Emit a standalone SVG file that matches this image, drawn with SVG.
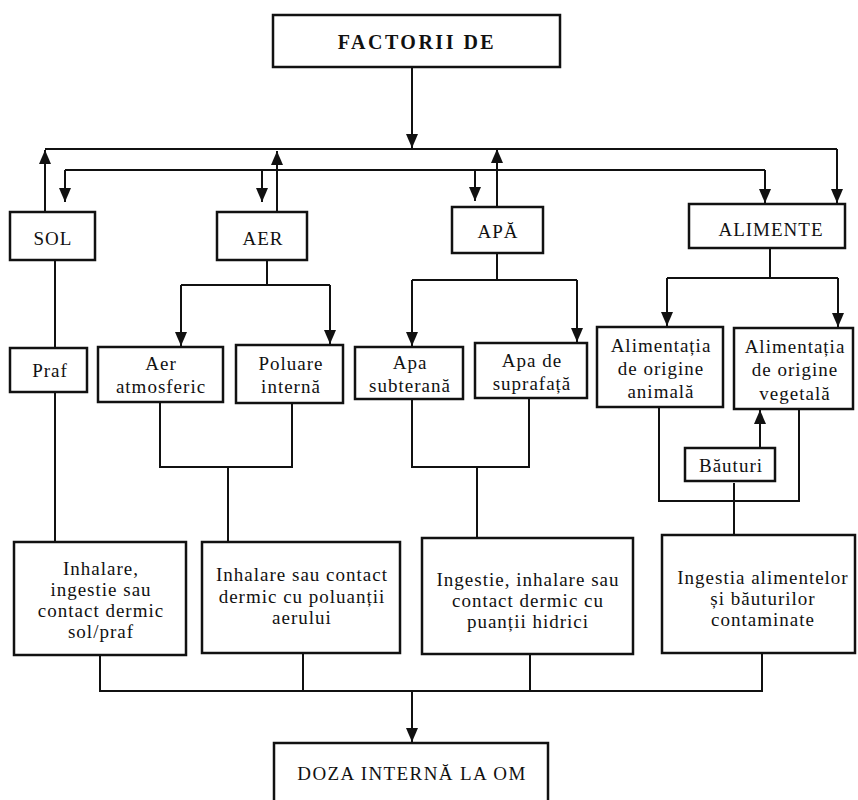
<svg xmlns="http://www.w3.org/2000/svg" width="858" height="800" viewBox="0 0 858 800">
<style>
.box{fill:#fff;stroke:#111;stroke-width:2.5}
.t{font-family:"Liberation Serif","Times New Roman",serif;font-size:19px;letter-spacing:1px;fill:#111;text-anchor:middle}
.b{font-weight:bold;font-size:20px;letter-spacing:2.5px}
.ln{fill:none;stroke:#111;stroke-width:2}
.ar{fill:none;stroke:#111;stroke-width:2;marker-end:url(#ah)}
</style>
<defs>
<marker id="ah" viewBox="0 0 14 12" refX="14" refY="6" markerWidth="14" markerHeight="12" markerUnits="userSpaceOnUse" orient="auto">
<path d="M0,0 L14,6 L0,12 z" fill="#111"/>
</marker>
</defs>
<rect width="858" height="800" fill="#fff"/>
<g id="connectors">
<path class="ar" d="M412,67 V148"/>
<path class="ln" d="M45,149 H837"/>
<path class="ar" d="M837,149 V203"/>
<path class="ln" d="M65,170 H765"/>
<path class="ar" d="M765,170 V203"/>
<path class="ar" d="M45,212 V150"/>
<path class="ar" d="M65,170 V202"/>
<path class="ar" d="M262,170 V202"/>
<path class="ar" d="M277,212 V151"/>
<path class="ar" d="M475,170 V201"/>
<path class="ar" d="M497,207 V149"/>
<path class="ln" d="M55,260 V348"/>
<path class="ln" d="M55,392 V542"/>
<path class="ln" d="M267,260 V285 M181,285 H330"/>
<path class="ar" d="M181,285 V346"/>
<path class="ar" d="M330,285 V344"/>
<path class="ln" d="M160,402 V467 H292 V403 M228,467 V542"/>
<path class="ln" d="M497,253 V280 M412,280 H577"/>
<path class="ar" d="M412,280 V346"/>
<path class="ar" d="M577,280 V342"/>
<path class="ln" d="M412,399 V467 H529 V398 M477,467 V538"/>
<path class="ln" d="M770,248 V278 M667,278 H838"/>
<path class="ar" d="M667,278 V326"/>
<path class="ar" d="M838,278 V327"/>
<path class="ln" d="M659,407 V501 H799 V409"/>
<path class="ar" d="M760,448 V410"/>
<path class="ln" d="M734,483 V535"/>
<path class="ln" d="M100,655 V691 H762 V653 M303,653 V691 M530,654 V691"/>
<path class="ar" d="M412,691 V742"/>
</g>
<g id="factorii"><rect class="box" x="273" y="15" width="287" height="52"/><text class="t b" x="417" y="49">FACTORII DE</text></g>
<g id="sol"><rect class="box" x="10" y="212" width="85" height="48"/><text class="t" x="53" y="245">SOL</text></g>
<g id="aer"><rect class="box" x="217" y="212" width="90" height="48"/><text class="t" x="263" y="245">AER</text></g>
<g id="apa"><rect class="box" x="452" y="207" width="91" height="46"/><text class="t" x="498" y="238">APĂ</text></g>
<g id="alimente"><rect class="box" x="689" y="204" width="156" height="44"/><text class="t" x="771" y="236">ALIMENTE</text></g>
<g id="praf"><rect class="box" x="10" y="348" width="77" height="44"/><text class="t" x="50" y="377">Praf</text></g>
<g id="aer-atm"><rect class="box" x="98" y="347" width="125" height="55"/><text class="t" x="161" y="370">Aer</text><text class="t" x="161" y="393">atmosferic</text></g>
<g id="poluare"><rect class="box" x="236" y="345" width="107" height="58"/><text class="t" x="291" y="370">Poluare</text><text class="t" x="291" y="393">internă</text></g>
<g id="apa-sub"><rect class="box" x="355" y="347" width="108" height="52"/><text class="t" x="410" y="369">Apa</text><text class="t" x="410" y="392">subterană</text></g>
<g id="apa-supr"><rect class="box" x="475" y="343" width="112" height="55"/><text class="t" x="532" y="367">Apa de</text><text class="t" x="532" y="390">suprafață</text></g>
<g id="alim-anim"><rect class="box" x="597" y="327" width="126" height="80"/><text class="t" x="661" y="352">Alimentația</text><text class="t" x="661" y="375">de origine</text><text class="t" x="661" y="398">animală</text></g>
<g id="alim-veg"><rect class="box" x="734" y="328" width="119" height="81"/><text class="t" x="795" y="353">Alimentația</text><text class="t" x="795" y="376">de origine</text><text class="t" x="795" y="400">vegetală</text></g>
<g id="bauturi"><rect class="box" x="685" y="448" width="90" height="33"/><text class="t" x="731" y="472">Băuturi</text></g>
<g id="cale-sol"><rect class="box" x="14" y="542" width="172" height="113"/><text class="t" x="101" y="575">Inhalare,</text><text class="t" x="101" y="596">ingestie sau</text><text class="t" x="101" y="617">contact dermic</text><text class="t" x="101" y="638">sol/praf</text></g>
<g id="cale-aer"><rect class="box" x="202" y="542" width="198" height="111"/><text class="t" x="302" y="581">Inhalare sau contact</text><text class="t" x="302" y="603">dermic cu poluanții</text><text class="t" x="302" y="624">aerului</text></g>
<g id="cale-apa"><rect class="box" x="422" y="538" width="211" height="116"/><text class="t" x="528" y="586">Ingestie, inhalare sau</text><text class="t" x="528" y="607">contact dermic cu</text><text class="t" x="528" y="628">puanții hidrici</text></g>
<g id="cale-alim"><rect class="box" x="662" y="535" width="193" height="118"/><text class="t" x="763" y="584">Ingestia alimentelor</text><text class="t" x="763" y="605">și băuturilor</text><text class="t" x="763" y="626">contaminate</text></g>
<g id="doza"><rect class="box" x="274" y="743" width="274" height="62"/><text class="t" x="412" y="780" style="letter-spacing:1.4px">DOZA INTERNĂ LA OM</text></g>
</svg>
